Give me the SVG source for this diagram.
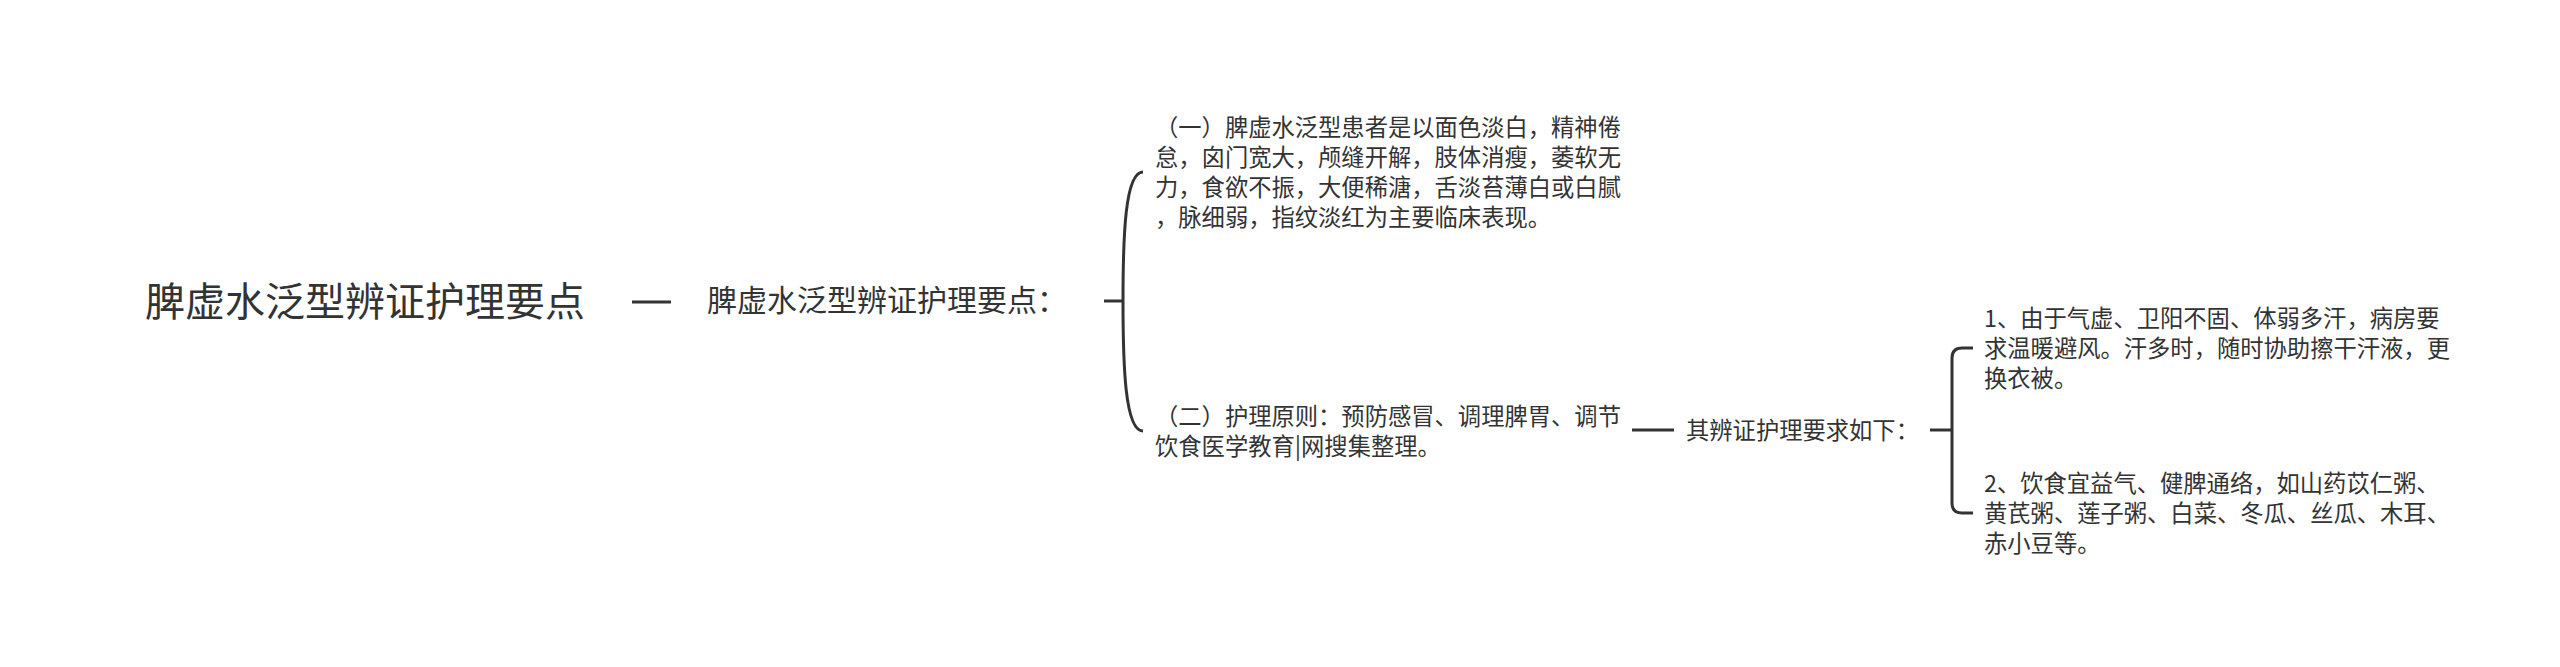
<svg xmlns="http://www.w3.org/2000/svg" width="2560" height="667" viewBox="0 0 2560 667">
<style>
text{font-family:"Noto Sans CJK SC","Noto Sans",sans-serif;fill:#333333}
.root{font-size:40px}
.n2{font-size:30px}
.leaf{font-size:23.3px}
.conn{fill:none;stroke:#333333;stroke-width:3;stroke-linecap:butt}
</style>
<rect width="2560" height="667" fill="#ffffff"/>
<g id="connectors">
<path class="conn" d="M632 302 L671 302"/>
<path class="conn" d="M1104 301 L1124 301"/>
<path class="conn" d="M1123 301 C1123 236 1125 172 1143 172"/>
<path class="conn" d="M1123 301 C1123 366 1125 431 1143 431"/>
<path class="conn" d="M1632 430 L1674 430"/>
<path class="conn" d="M1930 430 L1953 430"/>
<path class="conn" d="M1973 348 L1962 348 Q1952 348 1952 358 L1952 503 Q1952 513 1962 513 L1973 513"/>
</g>
<g id="root"><text class="root" x="145" y="316">脾虚水泛型辨证护理要点</text></g>
<g id="node-main"><text class="n2" x="707" y="311">脾虚水泛型辨证护理要点：</text></g>
<g id="node-1"><text class="leaf" x="1155"><tspan x="1155" y="136">（一）脾虚水泛型患者是以面色淡白，精神倦</tspan><tspan x="1155" y="166">怠，囟门宽大，颅缝开解，肢体消瘦，萎软无</tspan><tspan x="1155" y="196">力，食欲不振，大便稀溏，舌淡苔薄白或白腻</tspan><tspan x="1155" y="226">，脉细弱，指纹淡红为主要临床表现。</tspan></text></g>
<g id="node-2"><text class="leaf" x="1155"><tspan x="1155" y="425">（二）护理原则：预防感冒、调理脾胃、调节</tspan><tspan x="1155" y="455">饮食医学教育|网搜集整理。</tspan></text></g>
<g id="node-req"><text class="leaf" x="1686" y="439">其辨证护理要求如下：</text></g>
<g id="node-2-1"><text class="leaf" x="1984"><tspan x="1984" y="327">1、由于气虚、卫阳不固、体弱多汗，病房要</tspan><tspan x="1984" y="357">求温暖避风。汗多时，随时协助擦干汗液，更</tspan><tspan x="1984" y="387">换衣被。</tspan></text></g>
<g id="node-2-2"><text class="leaf" x="1984"><tspan x="1984" y="492">2、饮食宜益气、健脾通络，如山药苡仁粥、</tspan><tspan x="1984" y="522">黄芪粥、莲子粥、白菜、冬瓜、丝瓜、木耳、</tspan><tspan x="1984" y="552">赤小豆等。</tspan></text></g>
</svg>
